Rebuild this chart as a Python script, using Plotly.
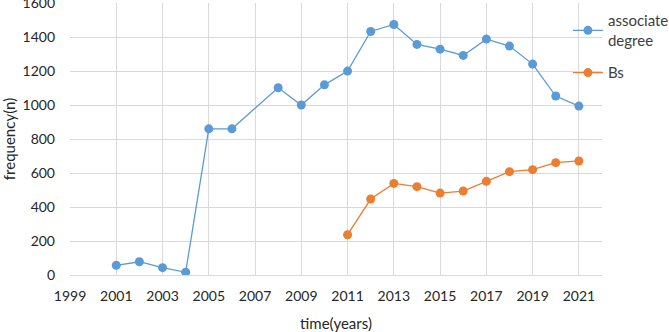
import plotly.graph_objects as go

years_assoc = [2001, 2002, 2003, 2004, 2005, 2006, 2008, 2009, 2010, 2011,
               2012, 2013, 2014, 2015, 2016, 2017, 2018, 2019, 2020, 2021]
assoc_values = [57, 78, 43, 16, 860, 860, 1102, 1000, 1119, 1200,
                1433, 1474, 1357, 1329, 1292, 1388, 1347, 1241, 1053, 994]

years_bs = [2011, 2012, 2013, 2014, 2015, 2016, 2017, 2018, 2019, 2020, 2021]
bs_values = [237, 447, 539, 520, 482, 494, 551, 608, 620, 661, 671]

x_ticks = list(range(1999, 2022, 2))
y_ticks = list(range(0, 1601, 200))

FONT = "Lato"
BLUE = "#5B9BD5"
ORANGE = "#ED7D31"

fig = go.Figure()
fig.add_trace(go.Scatter(
    x=years_assoc, y=assoc_values, name="associate<br>degree",
    mode="lines+markers", legendgroup="a",
    line=dict(color=BLUE, width=1.3),
    marker=dict(color=BLUE, size=9),
))
fig.add_trace(go.Scatter(
    x=years_bs, y=bs_values, name="Bs",
    mode="lines+markers", legendgroup="b",
    line=dict(color=ORANGE, width=1.3),
    marker=dict(color=ORANGE, size=9),
))

fig.update_layout(
    width=669, height=332,
    margin=dict(l=70, r=67, t=3, b=57, autoexpand=False),
    paper_bgcolor="white", plot_bgcolor="white",
    font=dict(family=FONT, size=14, color="#262626"),
    legend=dict(x=0.936, y=0.995, xanchor="left", yanchor="top",
                bgcolor="rgba(0,0,0,0)",
                font=dict(family=FONT, size=15, color="#404040"),
                itemwidth=30, tracegroupgap=10),
    xaxis=dict(
        range=[1999, 2022], tickvals=x_ticks, ticktext=[str(t) for t in x_ticks],
        showgrid=True, gridcolor="#d9d9d9", gridwidth=1,
        showline=True, linecolor="#d9d9d9", linewidth=1,
        zeroline=False, ticks="", ticklabelstandoff=8, automargin=False,
        title=dict(text="time(years)", font=dict(family=FONT, size=15), standoff=15),
    ),
    yaxis=dict(
        range=[0, 1600.5], tickvals=y_ticks,
        showgrid=True, gridcolor="#d9d9d9", gridwidth=1,
        zeroline=False, showline=False, ticks="", ticklabelstandoff=14,
        ticklabeloverflow="allow", automargin=False,
        title=dict(text="frequency(n)", font=dict(family=FONT, size=15), standoff=8),
    ),
)

fig.write_html("out.html", config={"displayModeBar": False},
               post_script="document.body.style.margin='0';")
